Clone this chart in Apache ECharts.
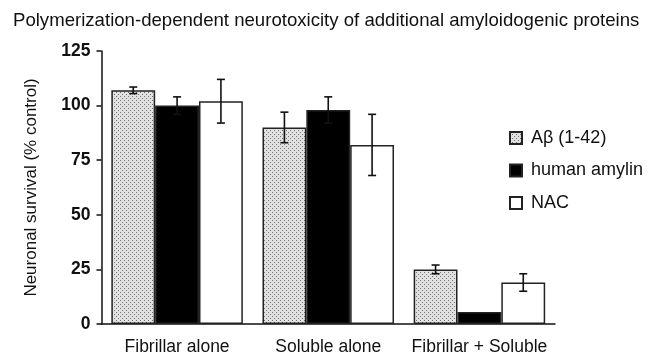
<!DOCTYPE html>
<html><head><meta charset="utf-8">
<script src="https://cdn.jsdelivr.net/npm/echarts@6/dist/echarts.min.js"></script>
<style>html,body{margin:0;padding:0;background:#fff;}#c{width:657px;height:356px;}</style>
</head><body><div id="c"></div>
<script>
const categories = ['Fibrillar alone', 'Soluble alone', 'Fibrillar + Soluble'];
const seriesNames = ['A\u03b2 (1-42)', 'human amylin', 'NAC'];
const abValues = [107, 90, 25];
const abErrors = [1.5, 7, 2];
const amylinValues = [100, 98, 5.5];
const amylinErrors = [4, 6, 0];
const nacValues = [102, 82, 19];
const nacErrors = [10, 14, 4];
const yTicks = [0, 25, 50, 75, 100, 125];

const FONT = '"Liberation Sans", Arial, sans-serif';
const CAT_GAP = 0.13;

function makePattern() {
  const c = document.createElement('canvas');
  c.width = 4; c.height = 4;
  const g = c.getContext('2d');
  g.fillStyle = '#e2e2e2'; g.fillRect(0, 0, 4, 4);
  g.fillStyle = '#6e6e6e';
  g.fillRect(0, 0, 1, 1);
  g.fillRect(2, 2, 1, 1);
  return c;
}
const pattern = { image: makePattern(), repeat: 'repeat' };

const chart = echarts.init(document.getElementById('c'), null, { renderer: 'canvas' });

function errSeries(idx, values, errors) {
  return {
    type: 'custom',
    name: seriesNames[idx] + ' err',
    z: 5,
    silent: true,
    data: values.map((v, i) => [i, v, errors[i]]),
    renderItem: function (params, api) {
      const i = api.value(0), v = api.value(1), e = api.value(2);
      if (!e) return;
      const band = api.size([1, 0])[0];
      const bw = band * (1 - CAT_GAP) / 3;
      const center = api.coord([i, v]);
      const x = center[0] + (idx - 1) * bw;
      const top = api.coord([i, v + e])[1];
      const bot = api.coord([i, v - e])[1];
      const cap = 4;
      const style = { stroke: '#111', lineWidth: 1.6 };
      return {
        type: 'group',
        children: [
          { type: 'line', shape: { x1: x, y1: top, x2: x, y2: bot }, style: style },
          { type: 'line', shape: { x1: x - cap, y1: top, x2: x + cap, y2: top }, style: style },
          { type: 'line', shape: { x1: x - cap, y1: bot, x2: x + cap, y2: bot }, style: style }
        ]
      };
    }
  };
}

const barBorder = { borderColor: '#222', borderWidth: 1.5 };

chart.setOption({
  animation: false,
  backgroundColor: '#fff',
  title: {
    text: 'Polymerization-dependent neurotoxicity of additional amyloidogenic proteins',
    left: 8, top: 6,
    textStyle: { fontFamily: FONT, fontSize: 18.6, fontWeight: 'normal', color: '#111' }
  },
  legend: {
    orient: 'vertical',
    left: 504, top: 124,
    itemWidth: 12, itemHeight: 12,
    itemGap: 14.5,
    icon: 'rect',
    data: seriesNames,
    textStyle: { fontFamily: FONT, fontSize: 18, color: '#111', padding: [0, 0, 0, 4] }
  },
  grid: { left: 101.5, right: 102, top: 51, bottom: 32 },
  xAxis: {
    type: 'category',
    data: categories,
    axisLine: { lineStyle: { color: '#111', width: 1.5 } },
    axisTick: { alignWithLabel: true, length: 5, lineStyle: { color: '#111', width: 1.5 } },
    axisLabel: { fontFamily: FONT, fontSize: 17.5, color: '#111', margin: 14, interval: 0 }
  },
  yAxis: {
    type: 'value',
    min: 0, max: 125, interval: 25,
    name: 'Neuronal survival (% control)',
    nameLocation: 'middle',
    nameGap: 62,
    nameTextStyle: { fontFamily: FONT, fontSize: 17, color: '#111' },
    axisLine: { show: true, lineStyle: { color: '#111', width: 1.5 } },
    axisTick: { show: true, length: 5, lineStyle: { color: '#111', width: 1.5 } },
    axisLabel: {
      fontFamily: FONT, fontSize: 17.5, fontWeight: 'bold', color: '#111', margin: 11,
      formatter: v => (yTicks.indexOf(v) >= 0 ? String(v) : '')
    },
    splitLine: { show: false }
  },
  series: [
    { type: 'bar', name: seriesNames[0], data: abValues, barGap: '0%', barCategoryGap: (CAT_GAP * 100) + '%',
      itemStyle: Object.assign({ color: pattern }, barBorder) },
    { type: 'bar', name: seriesNames[1], data: amylinValues, barGap: '0%', barCategoryGap: (CAT_GAP * 100) + '%',
      itemStyle: Object.assign({ color: '#000' }, barBorder) },
    { type: 'bar', name: seriesNames[2], data: nacValues, barGap: '0%', barCategoryGap: (CAT_GAP * 100) + '%',
      itemStyle: Object.assign({ color: '#fff' }, barBorder) },
    errSeries(0, abValues, abErrors),
    errSeries(1, amylinValues, amylinErrors),
    errSeries(2, nacValues, nacErrors)
  ]
});
</script>
</body></html>
